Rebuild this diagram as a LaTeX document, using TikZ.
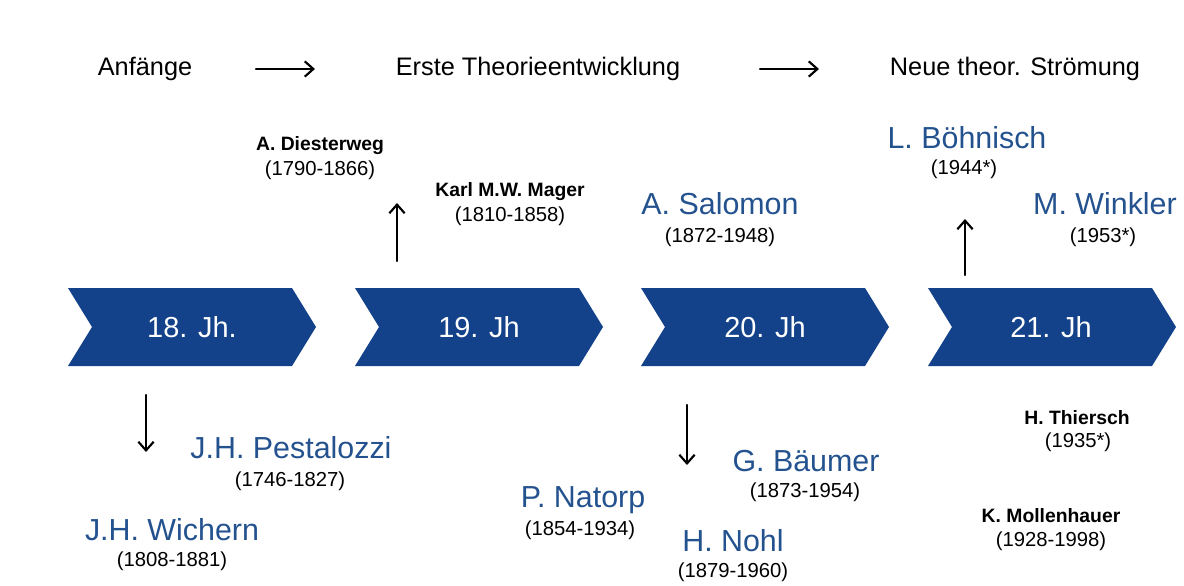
\documentclass[tikz,border=0pt]{standalone}
\usepackage{fontspec}
\setmainfont{Liberation Sans}
\usetikzlibrary{arrows.meta}
\definecolor{chev}{HTML}{13428A}
\definecolor{nameblue}{HTML}{23528F}
\tikzset{
  chevron/.style={fill=chev,draw=none},
  chevlabel/.style={text=white,font=\fontsize{21.7}{25}\selectfont,inner sep=0pt},
  header/.style={font=\fontsize{19}{22}\selectfont,inner sep=0pt},
  bigname/.style={text=nameblue,font=\fontsize{22.8}{26}\selectfont,inner sep=0pt},
  boldname/.style={font=\bfseries\fontsize{14.5}{17}\selectfont,inner sep=0pt},
  dates/.style={font=\fontsize{15.2}{18}\selectfont,inner sep=0pt},
  sketcharrow/.style={-{Straight Barb[length=6.5pt,width=11.5pt,line width=1.6pt]},line width=1.6pt,line cap=round}
}
\begin{document}
\begin{tikzpicture}[x=0.75pt,y=-0.75pt]
\useasboundingbox (0,0) rectangle (1184,585);
% chevrons
\foreach \i/\x in {1/68,2/355,3/641,4/928}{
  \fill[chevron] (\x,288) -- (\x+224,288) -- (\x+248,327) -- (\x+224,366) -- (\x,366) -- (\x+24,327) -- cycle;
}
\node[chevlabel] (c18) at (192,327) {18. Jh.};
\node[chevlabel] (c19) at (479,327) {19. Jh};
\node[chevlabel] (c20) at (765,327) {20. Jh};
\node[chevlabel] (c21) at (1051,327) {21. Jh};
% header
\node[header] (h1) at (145,69) {Anfänge};
\node[header] (h2) at (538,69) {Erste Theorieentwicklung};
\node[header] (h3) at (1015,69) {Neue theor. Strömung};
\coordinate (a1s) at (256,69); \coordinate (a1e) at (315,69);
\coordinate (a2s) at (760,69); \coordinate (a2e) at (819,69);
\draw[sketcharrow] (a1s) -- (a1e);
\draw[sketcharrow] (a2s) -- (a2e);
% upper names
\node[boldname] (dies) at (320,146) {A. Diesterweg};
\node[dates] (diesd) at (320,170) {(1790-1866)};
\node[boldname] (mager) at (510,192) {Karl M.W. Mager};
\node[dates] (magerd) at (510,216) {(1810-1858)};
\node[bigname] (salo) at (720,204) {A. Salomon};
\node[dates] (salod) at (720,237) {(1872-1948)};
\node[bigname] (boeh) at (967,138) {L. Böhnisch};
\node[dates] (boehd) at (964,169) {(1944*)};
\node[bigname] (wink) at (1105,204) {M. Winkler};
\node[dates] (winkd) at (1103,237) {(1953*)};
\coordinate (u1s) at (397,261); \coordinate (u1e) at (397,203);
\coordinate (u2s) at (965,275); \coordinate (u2e) at (965,219);
\draw[sketcharrow] (u1s) -- (u1e);
\draw[sketcharrow] (u2s) -- (u2e);
% lower names
\node[bigname] (pest) at (291,448) {J.H. Pestalozzi};
\node[dates] (pestd) at (290,481) {(1746-1827)};
\node[bigname] (wich) at (172,530) {J.H. Wichern};
\node[dates] (wichd) at (172,561) {(1808-1881)};
\node[bigname] (nato) at (583,500) {P. Natorp};
\node[dates] (natod) at (580,530) {(1854-1934)};
\node[bigname] (baeu) at (806,461) {G. Bäumer};
\node[dates] (baeud) at (805,492) {(1873-1954)};
\node[bigname] (nohl) at (733,541) {H. Nohl};
\node[dates] (nohld) at (733,572) {(1879-1960)};
\node[boldname] (thie) at (1077,418) {H. Thiersch};
\node[dates] (thied) at (1078,442) {(1935*)};
\node[boldname] (moll) at (1051,516) {K. Mollenhauer};
\node[dates] (molld) at (1051,541) {(1928-1998)};
\coordinate (d1s) at (146,395); \coordinate (d1e) at (146,452);
\coordinate (d2s) at (687,405); \coordinate (d2e) at (687,465);
\draw[sketcharrow] (d1s) -- (d1e);
\draw[sketcharrow] (d2s) -- (d2e);
\end{tikzpicture}
\end{document}
